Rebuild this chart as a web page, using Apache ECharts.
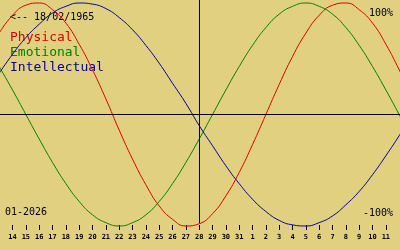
<!DOCTYPE html>
<html>
<head>
<meta charset="utf-8">
<script src="https://cdn.jsdelivr.net/npm/echarts@6/dist/echarts.min.js"></script>
<style>
html,body{margin:0;padding:0;background:#e0d080;}
#chart{width:400px;height:250px;}
</style>
</head>
<body>
<div id="chart"></div>
<script>
// Day numbers (January days; February days continue as 32 = Feb 1, ...)
const days = [13,14,15,16,17,18,19,20,21,22,23,24,25,26,27,28,29,30,31,32,33,34,35,36,37,38,39,40,41,42,43,44];
const physical = [0.73,0.89,0.98,1.00,0.94,0.82,0.63,0.40,0.14,-0.14,-0.40,-0.63,-0.82,-0.94,-1.00,-0.98,-0.89,-0.73,-0.52,-0.27,0.00,0.27,0.52,0.73,0.89,0.98,1.00,0.94,0.82,0.63,0.40,0.14];
const emotional = [0.43,0.22,0.00,-0.22,-0.43,-0.62,-0.78,-0.90,-0.97,-1.00,-0.97,-0.90,-0.78,-0.62,-0.43,-0.22,0.00,0.22,0.43,0.62,0.78,0.90,0.97,1.00,0.97,0.90,0.78,0.62,0.43,0.22,0.00,-0.22];
const intellectual = [0.37,0.54,0.69,0.81,0.91,0.97,1.00,0.99,0.95,0.87,0.76,0.62,0.46,0.28,0.10,-0.10,-0.28,-0.46,-0.62,-0.76,-0.87,-0.95,-0.99,-1.00,-0.97,-0.91,-0.81,-0.69,-0.54,-0.37,-0.19,0.00];
const tickDays = [14,15,16,17,18,19,20,21,22,23,24,25,26,27,28,29,30,31,32,33,34,35,36,37,38,39,40,41,42];
const tickLabels = ['14','15','16','17','18','19','20','21','22','23','24','25','26','27','28','29','30','31','1','2','3','4','5','6','7','8','9','10','11'];
const todayDay = 28;
const seriesNames = ['Physical','Emotional','Intellectual'];
const seriesColors = ['#e00000','#008000','#0000a0'];
const birthLabel = '<-- 18/02/1965';
const monthLabel = '01-2026';
const topLabel = '100%';
const bottomLabel = '-100%';

const X_MIN = 13.06, X_MAX = 43.06, Y_MAX = 1.027, Y_MIN = -1.036;
const mono = 'DejaVu Sans Mono';

function pairs(vals){ return days.map((d,i)=>[d, vals[i]]); }

const chart = echarts.init(document.getElementById('chart'), null, {renderer:'canvas'});
const lineSeries = [physical, emotional, intellectual].map((vals, i) => ({
  type:'line', name: seriesNames[i], data: pairs(vals), smooth: true,
  showSymbol:false, symbol:'none', animation:false, silent:true,
  lineStyle:{color: seriesColors[i], width:1}, z: 3
}));
lineSeries[0].markLine = {
  silent:true, symbol:'none', animation:false, label:{show:false},
  lineStyle:{color:'#000', width:1, type:'solid'},
  data:[
    {yAxis:0},
    [{coord:[todayDay, Y_MAX]}, {coord:[todayDay, -0.975]}]
  ]
};

chart.setOption({
  backgroundColor:'#e0d080',
  animation:false,
  grid:{left:0, right:0, top:0, bottom:20},
  xAxis:{
    type:'value', min:X_MIN, max:X_MAX,
    axisLine:{show:false, onZero:false},
    splitLine:{show:false},
    axisTick:{show:true, inside:true, length:5, lineStyle:{color:'#000', width:1}, customValues: tickDays},
    axisLabel:{show:true, margin:4, color:'#000', fontFamily:mono, fontSize:7, fontWeight:'bold',
      customValues: tickDays,
      formatter: v => tickLabels[tickDays.indexOf(Math.round(v))] }
  },
  yAxis:{
    type:'value', min:Y_MIN, max:Y_MAX,
    axisLine:{show:false}, axisTick:{show:false}, axisLabel:{show:false}, splitLine:{show:false}
  },
  graphic:[
    {type:'text', x:10, y:17, style:{text:birthLabel, font:'10px '+mono, fill:'#000', verticalAlign:'middle', align:'left'}},
    {type:'text', x:10, y:38, style:{text:seriesNames[0], font:'13px '+mono, fill:seriesColors[0], verticalAlign:'middle', align:'left'}},
    {type:'text', x:10, y:53, style:{text:seriesNames[1], font:'13px '+mono, fill:seriesColors[1], verticalAlign:'middle', align:'left'}},
    {type:'text', x:10, y:68, style:{text:seriesNames[2], font:'13px '+mono, fill:seriesColors[2], verticalAlign:'middle', align:'left'}},
    {type:'text', x:393, y:13, style:{text:topLabel, font:'10px '+mono, fill:'#000', verticalAlign:'middle', align:'right'}},
    {type:'text', x:393, y:213, style:{text:bottomLabel, font:'10px '+mono, fill:'#000', verticalAlign:'middle', align:'right'}},
    {type:'text', x:5, y:212, style:{text:monthLabel, font:'10px '+mono, fill:'#000', verticalAlign:'middle', align:'left'}}
  ],
  series: lineSeries
});
</script>
</body>
</html>
